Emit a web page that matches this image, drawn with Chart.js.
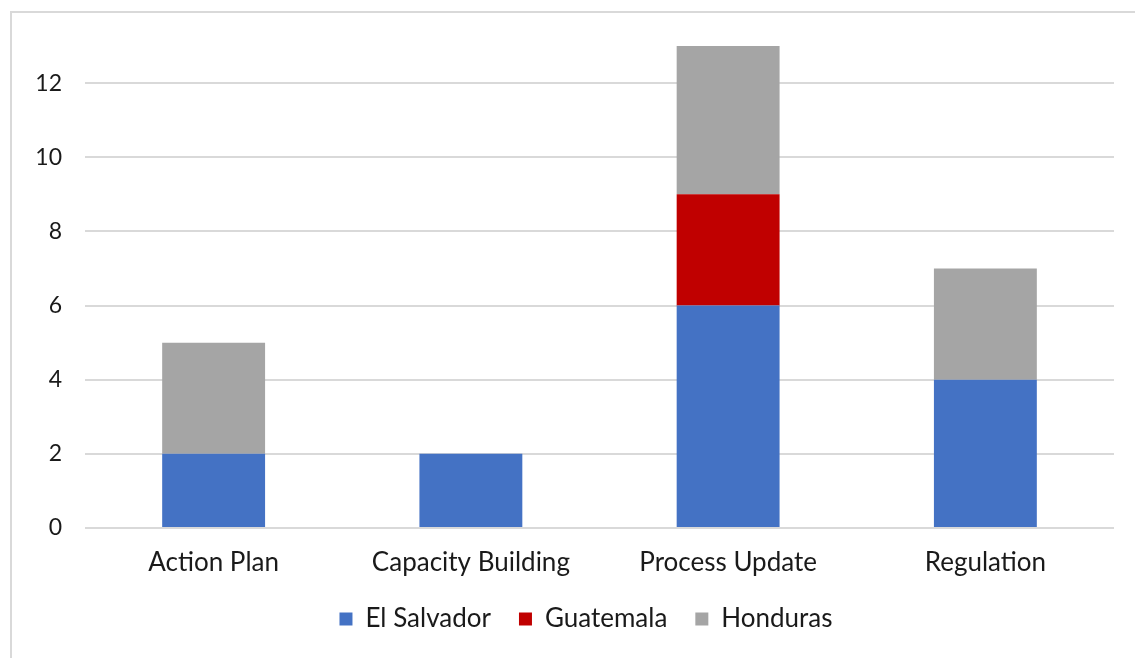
<!DOCTYPE html>
<html>
<head>
<meta charset="utf-8">
<script src="https://cdn.jsdelivr.net/npm/chart.js@4/dist/chart.umd.min.js"></script>
<style>
 body{margin:0;background:#fff;overflow:hidden;}
 #frame{position:absolute;left:10px;top:11px;width:1300px;height:800px;border:2px solid #d9d9d9;}
 #wrap{position:absolute;left:0;top:0;width:1135px;height:658px;}
</style>
</head>
<body>
<div id="frame"></div>
<div id="wrap"><canvas id="myChart" width="1135" height="658"></canvas></div>
<script>
// data
const categories = ['Action Plan', 'Capacity Building', 'Process Update', 'Regulation'];
const elSalvador = [2, 2, 6, 4];
const guatemala = [0, 0, 3, 0];
const honduras = [3, 0, 4, 3];
const yTicks = [0, 2, 4, 6, 8, 10, 12];

const font = "Lato, 'Open Sans', sans-serif";

// nudge the legend a bit to the right, like the original
const legendShift = {
 id: 'legendShift',
 afterLayout(chart) {
  chart.legend.left += 29;
  chart.legend.right += 29;
 }
};

const ctx = document.getElementById('myChart').getContext('2d');
const myChart = new Chart(ctx, {
 type: 'bar',
 data: {
  labels: categories,
  datasets: [
   {label: 'El Salvador', data: elSalvador, backgroundColor: '#4472C4'},
   {label: 'Guatemala', data: guatemala, backgroundColor: '#C00000'},
   {label: 'Honduras', data: honduras, backgroundColor: '#A5A5A5'}
  ]
 },
 plugins: [legendShift],
 options: {
  responsive: false,
  animation: false,
  layout: {padding: {left: 0, right: 21, top: 0, bottom: 16}},
  datasets: {bar: {categoryPercentage: 1, barPercentage: 0.4}},
  scales: {
   x: {
    stacked: true,
    grid: {display: false},
    border: {display: false},
    ticks: {color: '#1a1a1a', padding: 11, font: {family: font, size: 26}},
    afterFit: (s) => { s.height = 50; }
   },
   y: {
    stacked: true,
    min: 0,
    max: 13.25,
    grid: {color: '#d9d9d9', lineWidth: 2, drawTicks: false},
    border: {display: false},
    ticks: {color: '#1a1a1a', padding: 23, font: {family: font, size: 23}},
    afterBuildTicks: (s) => { s.ticks = yTicks.map(v => ({value: v})); },
    afterFit: (s) => { s.width = 85; }
   }
  },
  plugins: {
   tooltip: {enabled: false},
   legend: {
    position: 'bottom',
    labels: {
     color: '#1a1a1a',
     boxWidth: 13,
     boxHeight: 13,
     padding: 28,
     font: {family: font, size: 26}
    }
   }
  }
 }
});
</script>
</body>
</html>
